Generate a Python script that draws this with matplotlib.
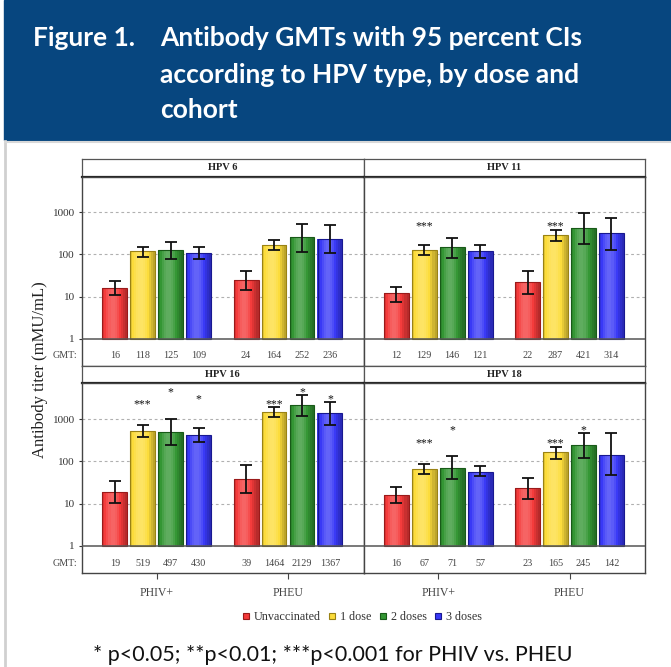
import numpy as np
import matplotlib
matplotlib.use("Agg")
import matplotlib.pyplot as plt
from matplotlib.patches import Rectangle
from matplotlib.lines import Line2D
from matplotlib.colors import to_rgb

# ---- data -----------------------------------------------------------
panel_titles = ["HPV 6", "HPV 11", "HPV 16", "HPV 18"]
cohorts = ["PHIV+", "PHEU"]
doses = ["Unvaccinated", "1 dose", "2 doses", "3 doses"]

# order: PHIV+ (unvacc, 1, 2, 3 doses), PHEU (unvacc, 1, 2, 3 doses)
gmt_hpv6 = [16, 118, 125, 109, 24, 164, 252, 236]
lo_hpv6 = [11, 88, 76, 79, 14.3, 126, 113, 106]
hi_hpv6 = [23, 147, 199, 147, 40, 215, 531, 486]

gmt_hpv11 = [12, 129, 146, 121, 22, 287, 421, 314]
lo_hpv11 = [7.5, 95, 83, 82, 11.5, 203, 173, 126]
hi_hpv11 = [17, 169, 243, 169, 41, 383, 968, 724]

gmt_hpv16 = [19, 519, 497, 430, 39, 1464, 2129, 1367]
lo_hpv16 = [10.5, 367, 246, 286, 17.9, 1096, 1185, 724]
hi_hpv16 = [34, 708, 984, 615, 84, 1937, 3656, 2494]

gmt_hpv18 = [16, 67, 71, 57, 23, 165, 245, 142]
lo_hpv18 = [10.3, 50, 38, 45, 12.6, 116, 123, 48]
hi_hpv18 = [24.8, 86, 133, 78, 40.5, 221, 468, 468]

# significance marks per dose (PHIV vs PHEU), shown above both cohorts
sig_hpv6 = ["", "", "", ""]
sig_hpv11 = ["", "***", "", ""]
sig_hpv16 = ["", "***", "*", "*"]
sig_hpv18 = ["", "***", "*", ""]

gmts = [gmt_hpv6, gmt_hpv11, gmt_hpv16, gmt_hpv18]
los = [lo_hpv6, lo_hpv11, lo_hpv16, lo_hpv18]
his = [hi_hpv6, hi_hpv11, hi_hpv16, hi_hpv18]
sigs = [sig_hpv6, sig_hpv11, sig_hpv16, sig_hpv18]

bar_colors = ["#f43a3a", "#fcdc3a", "#339633", "#3838f6"]
edge_colors = ["#9a1a1a", "#9a8214", "#185a18", "#181890"]

# ---- figure ---------------------------------------------------------
W, H = 671, 667
fig = plt.figure(figsize=(W / 100, H / 100), dpi=100)

def fx(px):
    return px / W

def fy(py):
    return 1 - py / H

def shade(col, f):
    # f > 0 lighten, f < 0 darken
    rgb = np.array(to_rgb(col))
    if f >= 0:
        return tuple(rgb + (1 - rgb) * f)
    return tuple(rgb * (1 + f))

serif = "Liberation Serif"

# header band
fig.patches.append(Rectangle((fx(4), fy(140)), 1 - fx(4), 140 / H,
                             transform=fig.transFigure, color="#07467f", zorder=0))
hdr = dict(color="white", fontsize=19, fontweight="bold", family="Lato",
           va="center", ha="left")
fig.text(fx(33), fy(38), "Figure 1.", **hdr)
fig.text(fx(160), fy(38), "Antibody GMTs with 95 percent CIs", **hdr)
fig.text(fx(160), fy(75), "according to HPV type, by dose and", **hdr)
fig.text(fx(160), fy(110), "cohort", **hdr)

# light grey box border
fig.lines.append(Line2D([fx(5), fx(5)], [fy(141), 0], transform=fig.transFigure,
                        color="#d0d0d0", lw=2))
fig.lines.append(Line2D([fx(5), 1], [fy(141.5), fy(141.5)], transform=fig.transFigure,
                        color="#d8d8d8", lw=1.5))

# panel geometry (pixels)
col_x = [(82, 363.5), (363.5, 645)]
row_y = [(159, 176.5, 366), (366, 383.3, 573.3)]

xpos = np.array([0, 1, 2, 3, 4.7, 5.7, 6.7, 7.7])
bar_w = 0.89
ymin, ymax = 0.2255, 6980

# horizontal shading profile across each bar (3D look)
n_sl = 12
t = (np.arange(n_sl) + 0.5) / n_sl
profile = 0.22 * np.cos((t - 0.42) * np.pi) ** 2 - 0.22 * (np.abs(t - 0.42) * 2) ** 2

for k in range(4):
    r, c = divmod(k, 2)
    x0, x1 = col_x[c]
    s0, a0, a1 = row_y[r]

    # strip
    sax = fig.add_axes([fx(x0), fy(a0), (x1 - x0) / W, (a0 - s0) / H])
    sax.set_xticks([])
    sax.set_yticks([])
    for sp in sax.spines.values():
        sp.set_color("#555555")
        sp.set_linewidth(0.9)
    sax.spines["bottom"].set_color("#222222")
    sax.spines["bottom"].set_linewidth(1.6)
    sax.text(0.5, 0.5, panel_titles[k], transform=sax.transAxes, ha="center",
             va="center", family=serif, fontweight="bold", fontsize=7.5,
             color="#222222")

    ax = fig.add_axes([fx(x0), fy(a1), (x1 - x0) / W, (a1 - a0) / H])
    ax.set_yscale("log")
    ax.set_ylim(ymin, ymax)
    ax.set_xlim(-1.17, 8.9)
    for sp in ax.spines.values():
        sp.set_color("#444444")
        sp.set_linewidth(1.0)

    g = np.array(gmts[k], dtype=float)
    lo = np.array(los[k], dtype=float)
    hi = np.array(his[k], dtype=float)
    cols = bar_colors * 2
    ecols = edge_colors * 2

    for yv in [10, 100, 1000]:
        ax.axhline(yv, color="#b0b0b0", lw=0.8, ls=(0, (2.5, 2.5)), zorder=1)
    ax.axhline(1, color="#555555", lw=1.1, zorder=3)

    # shaded bars: thin slices, then an outline
    sl_w = bar_w / n_sl
    for j in range(n_sl):
        xs = xpos - bar_w / 2 + (j + 0.5) * sl_w
        ax.bar(xs, g - 1, bottom=1, width=sl_w * 1.02,
               color=[shade(cc, profile[j]) for cc in cols],
               linewidth=0, zorder=2)
    ax.bar(xpos, g - 1, bottom=1, width=bar_w, fill=False, edgecolor=ecols,
           linewidth=0.8, zorder=2.5)
    ax.errorbar(xpos, g, yerr=[g - lo, hi - g], fmt="none", ecolor="#111111",
                elinewidth=1.3, capsize=4.5, capthick=1.3, zorder=4)

    # GMT values under the baseline
    for xv, gv in zip(xpos, gmts[k]):
        ax.text(xv, 0.39, str(gv), ha="center", va="center", family=serif,
                fontsize=7.3, color="#444444")

    # significance stars
    for d in range(4):
        mark = sigs[k][d]
        if mark:
            top = max(hi[d], hi[d + 4])
            for xv in (xpos[d], xpos[d + 4]):
                ax.text(xv, top, mark, ha="center", va="baseline", family=serif,
                        fontsize=8.5, color="#111111")

    ax.yaxis.set_minor_locator(matplotlib.ticker.NullLocator())
    if c == 0:
        ax.set_yticks([1, 10, 100, 1000])
        ax.set_yticklabels(["1", "10", "100", "1000"], family=serif)
        ax.tick_params(axis="y", which="major", length=2, pad=3,
                       labelsize=8, colors="#333333")
        ax.text(-0.018, 0.39, "GMT:", transform=ax.get_yaxis_transform(),
                ha="right", va="center", family=serif, fontsize=7.3,
                color="#444444")
    else:
        ax.set_yticks([])

    if r == 1:
        ax.set_xticks([1.5, 6.2])
        ax.set_xticklabels(cohorts, family=serif, fontsize=8.5, color="#444444")
        ax.tick_params(axis="x", length=4, pad=6, color="#444444")
    else:
        ax.set_xticks([])

fig.text(fx(40), fy(370), "Antibody titer (mMU/mL)", rotation=90, ha="center",
         va="center", family=serif, fontsize=12, color="#222222")

handles = [Line2D([], [], ls="", marker="s", markersize=4.8, markerfacecolor=fc,
                  markeredgecolor=ec, markeredgewidth=0.8)
           for fc, ec in zip(bar_colors, edge_colors)]
fig.legend(handles, doses, loc="center", bbox_to_anchor=(fx(362), fy(617)),
           ncol=4, frameon=False, prop={"family": serif, "size": 8.7},
           handlelength=0.7, handletextpad=0.3, columnspacing=0.6,
           labelcolor="#333333")

fig.text(fx(333), fy(655), "* p<0.05; **p<0.01; ***p<0.001 for PHIV vs. PHEU",
         ha="center", va="center", family="Lato", fontsize=15.5, color="#111111")

fig.savefig("out.png", dpi=100)
